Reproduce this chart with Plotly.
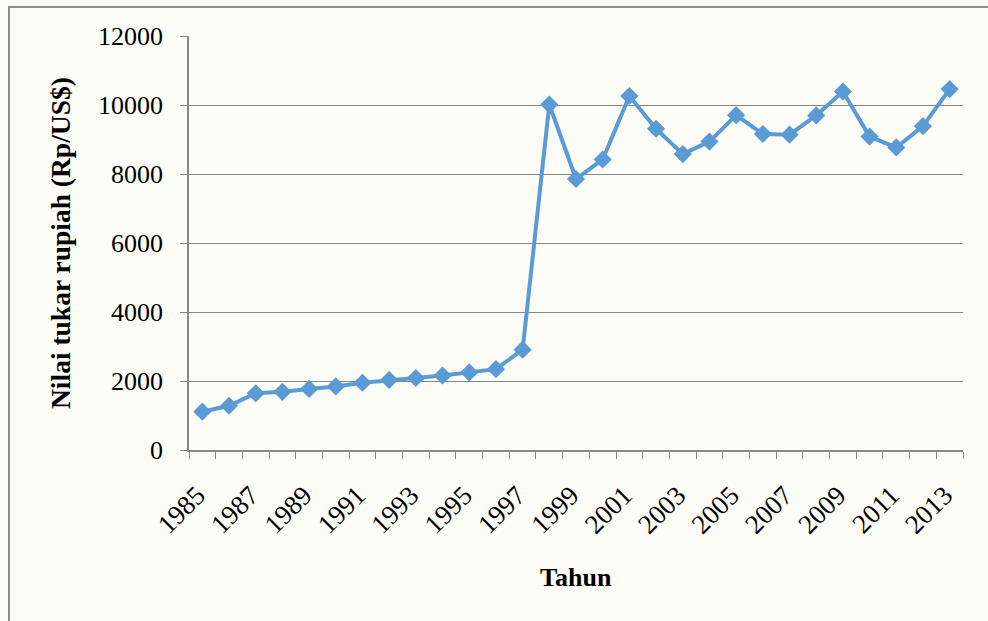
import plotly.graph_objects as go

years = list(range(1985, 2014))
kurs = [1110, 1283, 1644, 1686, 1770, 1843, 1950, 2030, 2087, 2160, 2249, 2342, 2909,
        10014, 7855, 8421, 10261, 9311, 8577, 8939, 9705, 9159, 9141, 9699, 10390,
        9085, 8770, 9387, 10461]
tick_years = list(range(1985, 2014, 2))
tick_labels = [str(y) for y in tick_years]
y_ticks = list(range(0, 12001, 2000))
y_labels = [str(v) for v in y_ticks]
boundaries = [y - 0.5 for y in range(1985, 2015)]

W, H = 988, 621
L, R, T, B = 189, 25, 36, 171
pw, ph = W - L - R, H - T - B

def px_x(x):
    return (x - L) / pw

def px_y(y):
    return (H - B - y) / ph

BG = "#fcfcf6"
GRID = "#878787"
FONT = "Liberation Serif, Times New Roman, serif"

fig = go.Figure()
fig.add_trace(go.Scatter(
    x=years, y=kurs, mode="lines+markers",
    line=dict(color="#5b9bd5", width=4),
    marker=dict(symbol="diamond", size=14, color="#5b9bd5"),
    showlegend=False,
))

fig.update_layout(
    width=W, height=H,
    margin=dict(l=L, r=R, t=T, b=B, autoexpand=False),
    paper_bgcolor=BG, plot_bgcolor=BG,
    font=dict(family=FONT, size=26, color="#000000"),
    xaxis=dict(
        range=[1984.5, 2013.5], tickmode="array", tickvals=tick_years, ticktext=tick_labels,
        ticks="", tickangle=-45, showgrid=False, zeroline=False,
        showline=True, linecolor=GRID, linewidth=1.5,
        tickfont=dict(family=FONT, size=27), ticklabelstandoff=17, ticklabelshift=-5,
        minor=dict(tickmode="array", tickvals=boundaries, ticks="outside", ticklen=7,
                   tickcolor=GRID, tickwidth=1, showgrid=False),
    ),
    yaxis=dict(
        range=[0, 12000], tickmode="array", tickvals=y_ticks, ticktext=y_labels,
        ticks="outside", ticklen=7, tickcolor=GRID, tickwidth=1,
        showgrid=True, gridcolor=GRID, gridwidth=1, zeroline=False,
        showline=True, linecolor=GRID, linewidth=1.5,
        tickfont=dict(family=FONT, size=26), ticklabelstandoff=12,
    ),
    shapes=[dict(type="rect", xref="paper", yref="paper",
                 x0=px_x(9), x1=px_x(995), y0=px_y(630), y1=px_y(7),
                 line=dict(color="#8c8c8c", width=2), fillcolor="rgba(0,0,0,0)", layer="below")],
    annotations=[
        dict(text="<b>Tahun</b>", xref="paper", yref="paper", x=px_x(576), y=px_y(577),
             xanchor="center", yanchor="middle", showarrow=False,
             font=dict(family=FONT, size=26)),
        dict(text="<b>Nilai tukar rupiah (Rp/US$)</b>", xref="paper", yref="paper",
             x=px_x(60), y=px_y(243), xanchor="center", yanchor="middle", textangle=-90,
             showarrow=False, font=dict(family=FONT, size=27.5)),
    ],
)

fig.write_html("out.html", config={"displayModeBar": False},
               post_script="document.body.style.margin='0';")
